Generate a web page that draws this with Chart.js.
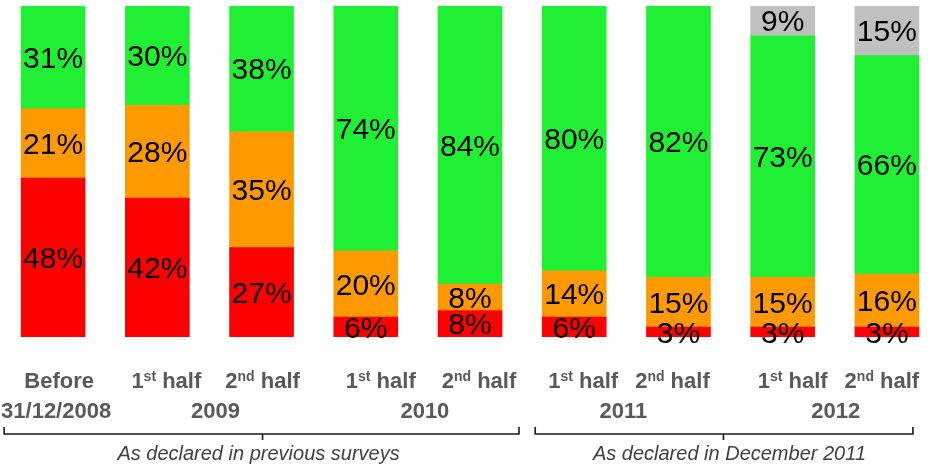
<!DOCTYPE html>
<html>
<head>
<meta charset="utf-8">
<script src="https://cdn.jsdelivr.net/npm/chart.js@4/dist/chart.umd.min.js"></script>
<style>
  html, body { margin: 0; padding: 0; background: #fff; overflow: hidden; }
  #wrap { width: 942px; height: 464px; }
</style>
</head>
<body>
<div id="wrap"><canvas id="myChart" width="942" height="464"></canvas></div>
<script>
// categories (first row of the axis: number + superscript + text)
var categories = ["Before", "1st half", "2nd half", "1st half", "2nd half", "1st half", "2nd half", "1st half", "2nd half"];
var catNums = ["Before", "1", "2", "1", "2", "1", "2", "1", "2"];
var catSups = ["", "st", "nd", "st", "nd", "st", "nd", "st", "nd"];
var catRest = ["", " half", " half", " half", " half", " half", " half", " half", " half"];

// second row of the axis: years and the bars they span
var yearLabels = ["31/12/2008", "2009", "2010", "2011", "2012"];
var yearFrom = [0, 1, 3, 5, 7];
var yearTo = [0, 2, 4, 6, 8];

// series values (%)
var redValues = [48, 42, 27, 6, 8, 6, 3, 3, 3];
var orangeValues = [21, 28, 35, 20, 8, 14, 15, 15, 16];
var greenValues = [31, 30, 38, 74, 84, 80, 82, 73, 66];
var greyValues = [0, 0, 0, 0, 0, 0, 0, 9, 15];

// brackets under the axis
var bracketTexts = ["As declared in previous surveys", "As declared in December 2011"];
var bracketFrom = [0, 5];
var bracketTo = [4, 8];

var labelFont = 'Liberation Sans, Arial, sans-serif';

// draw the % labels in the middle of each segment
var valueLabels = {
  id: 'valueLabels',
  afterDatasetsDraw: function(chart) {
    var ctx = chart.ctx;
    ctx.save();
    ctx.font = '30px ' + labelFont;
    ctx.fillStyle = '#000';
    ctx.textAlign = 'center';
    ctx.textBaseline = 'alphabetic';
    chart.data.datasets.forEach(function(ds, di) {
      var meta = chart.getDatasetMeta(di);
      meta.data.forEach(function(bar, i) {
        var v = ds.data[i];
        if (!v) return;
        var mid = (bar.y + bar.base) / 2;
        ctx.fillText(v + '%', bar.x, mid + 10.5);
      });
    });
    ctx.restore();
  }
};

// custom axis: two rows of labels, brackets and captions
var axisLabels = {
  id: 'axisLabels',
  afterDraw: function(chart) {
    var ctx = chart.ctx;
    var xs = chart.scales.x;
    var px = function(i) { return xs.getPixelForValue(i); };
    var rowOffsets = [6, 9, 1, 15, 9, 9, -6, 10, -5];
    var yearOffsets = [3, 6, 7, -3, 1];
    ctx.save();
    ctx.fillStyle = '#595959';
    ctx.textBaseline = 'alphabetic';
    ctx.textAlign = 'left';

    var big = 'bold 22px ' + labelFont;
    var small = 'bold 14px ' + labelFont;
    for (var i = 0; i < categories.length; i++) {
      ctx.font = big;
      var w1 = ctx.measureText(catNums[i]).width;
      var w3 = ctx.measureText(catRest[i]).width;
      ctx.font = small;
      var w2 = ctx.measureText(catSups[i]).width;
      var x = px(i) + rowOffsets[i] - (w1 + w2 + w3) / 2;
      var base = 388;
      ctx.font = big;
      ctx.fillText(catNums[i], x, base);
      ctx.font = small;
      ctx.fillText(catSups[i], x + w1, base - 7);
      ctx.font = big;
      ctx.fillText(catRest[i], x + w1 + w2, base);
    }

    ctx.textAlign = 'center';
    ctx.font = big;
    for (var j = 0; j < yearLabels.length; j++) {
      var cx = (px(yearFrom[j]) + px(yearTo[j])) / 2 + yearOffsets[j];
      ctx.fillText(yearLabels[j], cx, 418);
    }

    // brackets
    var bx = [
      [px(bracketFrom[0]) - 49, px(bracketTo[0]) + 49, px(2) + 1],
      [px(bracketFrom[1]) - 39, px(bracketTo[1]) + 26, px(6) + 45]
    ];
    ctx.strokeStyle = '#1a1a1a';
    ctx.lineWidth = 1.6;
    for (var k = 0; k < bx.length; k++) {
      ctx.beginPath();
      ctx.moveTo(bx[k][0], 427);
      ctx.lineTo(bx[k][0], 434);
      ctx.lineTo(bx[k][1], 434);
      ctx.lineTo(bx[k][1], 427);
      ctx.moveTo(bx[k][2], 434);
      ctx.lineTo(bx[k][2], 440);
      ctx.stroke();
    }

    ctx.fillStyle = '#404040';
    ctx.font = 'italic 20px ' + labelFont;
    ctx.fillText(bracketTexts[0], bx[0][2] - 4, 460);
    ctx.fillText(bracketTexts[1], bx[1][2] + 6, 460);
    ctx.restore();
  }
};

new Chart(document.getElementById('myChart'), {
  type: 'bar',
  data: {
    labels: categories,
    datasets: [
      { label: 'red', data: redValues, backgroundColor: '#FF0000' },
      { label: 'orange', data: orangeValues, backgroundColor: '#FF9900' },
      { label: 'green', data: greenValues, backgroundColor: '#1FF033' },
      { label: 'grey', data: greyValues, backgroundColor: '#C0C0C0' }
    ]
  },
  options: {
    responsive: false,
    animation: false,
    devicePixelRatio: 1,
    layout: { padding: { left: 1, right: 3, top: 6, bottom: 127 } },
    datasets: { bar: { barThickness: 64, borderWidth: 0 } },
    plugins: {
      legend: { display: false },
      tooltip: { enabled: false },
      title: { display: false }
    },
    scales: {
      x: { stacked: true, display: false },
      y: { stacked: true, display: false, min: 0, max: 100 }
    }
  },
  plugins: [valueLabels, axisLabels]
});
</script>
</body>
</html>
